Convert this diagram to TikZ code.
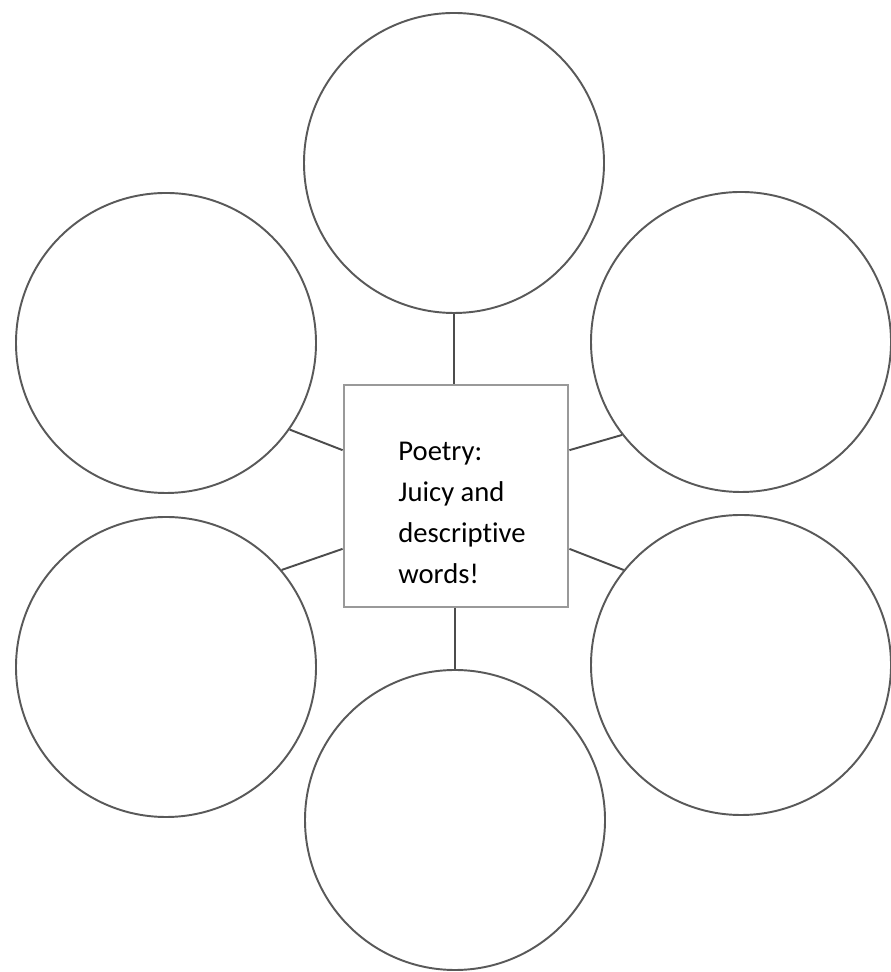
\documentclass[tikz,border=0pt]{standalone}
\usepackage{fontspec}
\setmainfont{Carlito}[Ligatures=NoCommon]
\usepackage{tikz}

\begin{document}
\begin{tikzpicture}[
    bub/.style={circle, draw=black!65, line width=1.1pt, minimum size=6cm, inner sep=0pt}, % 圆圈
    hub/.style={rectangle, draw=black!40, line width=1.6pt, minimum width=4.48cm, minimum height=4.44cm}, % 中心方框
    link/.style={draw=black!70, line width=1.1pt}
]
\useasboundingbox (0,0) rectangle (17.8,19.44);

% 中心方框
\node[hub] (hub) at (9.12,9.52) {};
\node[align=left, font=\fontsize{16.3}{23.3}\selectfont, inner sep=0pt] (title) at (9.24,9.18)
    {Poetry:\\Juicy and\\descriptive\\words!};

% 周围的圆圈
\node[bub] (c1) at (9.08,16.18) {};
\node[bub] (c2) at (3.32,12.58) {};
\node[bub] (c3) at (14.82,12.60) {};
\node[bub] (c4) at (3.32,6.10) {};
\node[bub] (c5) at (14.82,6.14) {};
\node[bub] (c6) at (9.10,3.04) {};

% 连线
\draw[link] (c1.south) -- (c1.south |- hub.north);
\draw[link] (c6.north) -- (c6.north |- hub.south);
\draw[link] (c2.-35) -- (hub.158);
\draw[link] (c4.40) -- (hub.205);
\draw[link] (c3.218) -- (hub.22);
\draw[link] (c5.141) -- (hub.335);
\end{tikzpicture}
\end{document}
